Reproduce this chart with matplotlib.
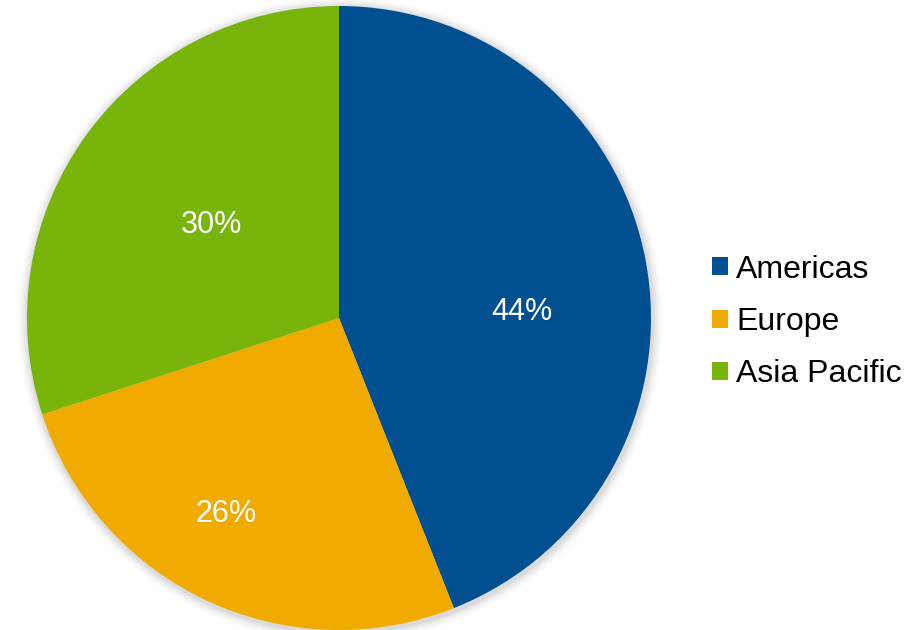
import matplotlib
matplotlib.use("Agg")
import matplotlib.pyplot as plt
from matplotlib.patches import Patch, Circle

categories = ["Americas", "Europe", "Asia Pacific"]
shares = [44, 26, 30]
colors = ["#005091", "#F0AA00", "#78B40A"]
label_pos = [(0.587, 0.019), (-0.362, -0.628), (-0.407, 0.298)]

plt.rcParams['font.family'] = ['Liberation Sans', 'DejaVu Sans']

fig = plt.figure(figsize=(9.24, 6.3), dpi=100)
ax = fig.add_axes([27/924, 0/630, 624/924, 624/630])

# soft shadow
for i, a in enumerate([0.05, 0.04, 0.03, 0.02]):
    ax.add_patch(Circle((0.004, -0.006), 1.0 + 0.008*(i+1), color="black",
                        alpha=a, lw=0, zorder=0, clip_on=False))

wedges, texts, autotexts = ax.pie(
    shares, colors=colors, startangle=90, counterclock=False,
    autopct=lambda p: f"{p:.0f}%", pctdistance=0.5,
    wedgeprops=dict(linewidth=0), radius=1.0,
    textprops=dict(color="white", fontsize=22))
for w in wedges:
    w.set_zorder(1)
    w.set_clip_on(False)
for t, pos in zip(autotexts, label_pos):
    t.set_position(pos)
    t.set_zorder(2)

ax.set_xlim(-1, 1)
ax.set_ylim(-1, 1)
ax.set_aspect("equal")
ax.axis("off")

handles = [Patch(facecolor=c, edgecolor="none") for c in colors]
fig.legend(handles, categories, loc="center left",
           bbox_to_anchor=(712/924, 1 - 322/630), frameon=False,
           fontsize=23, handlelength=0.5, handleheight=0.5,
           handletextpad=0.26, labelspacing=0.70, borderpad=0, borderaxespad=0)

fig.savefig("out.png", dpi=100)
